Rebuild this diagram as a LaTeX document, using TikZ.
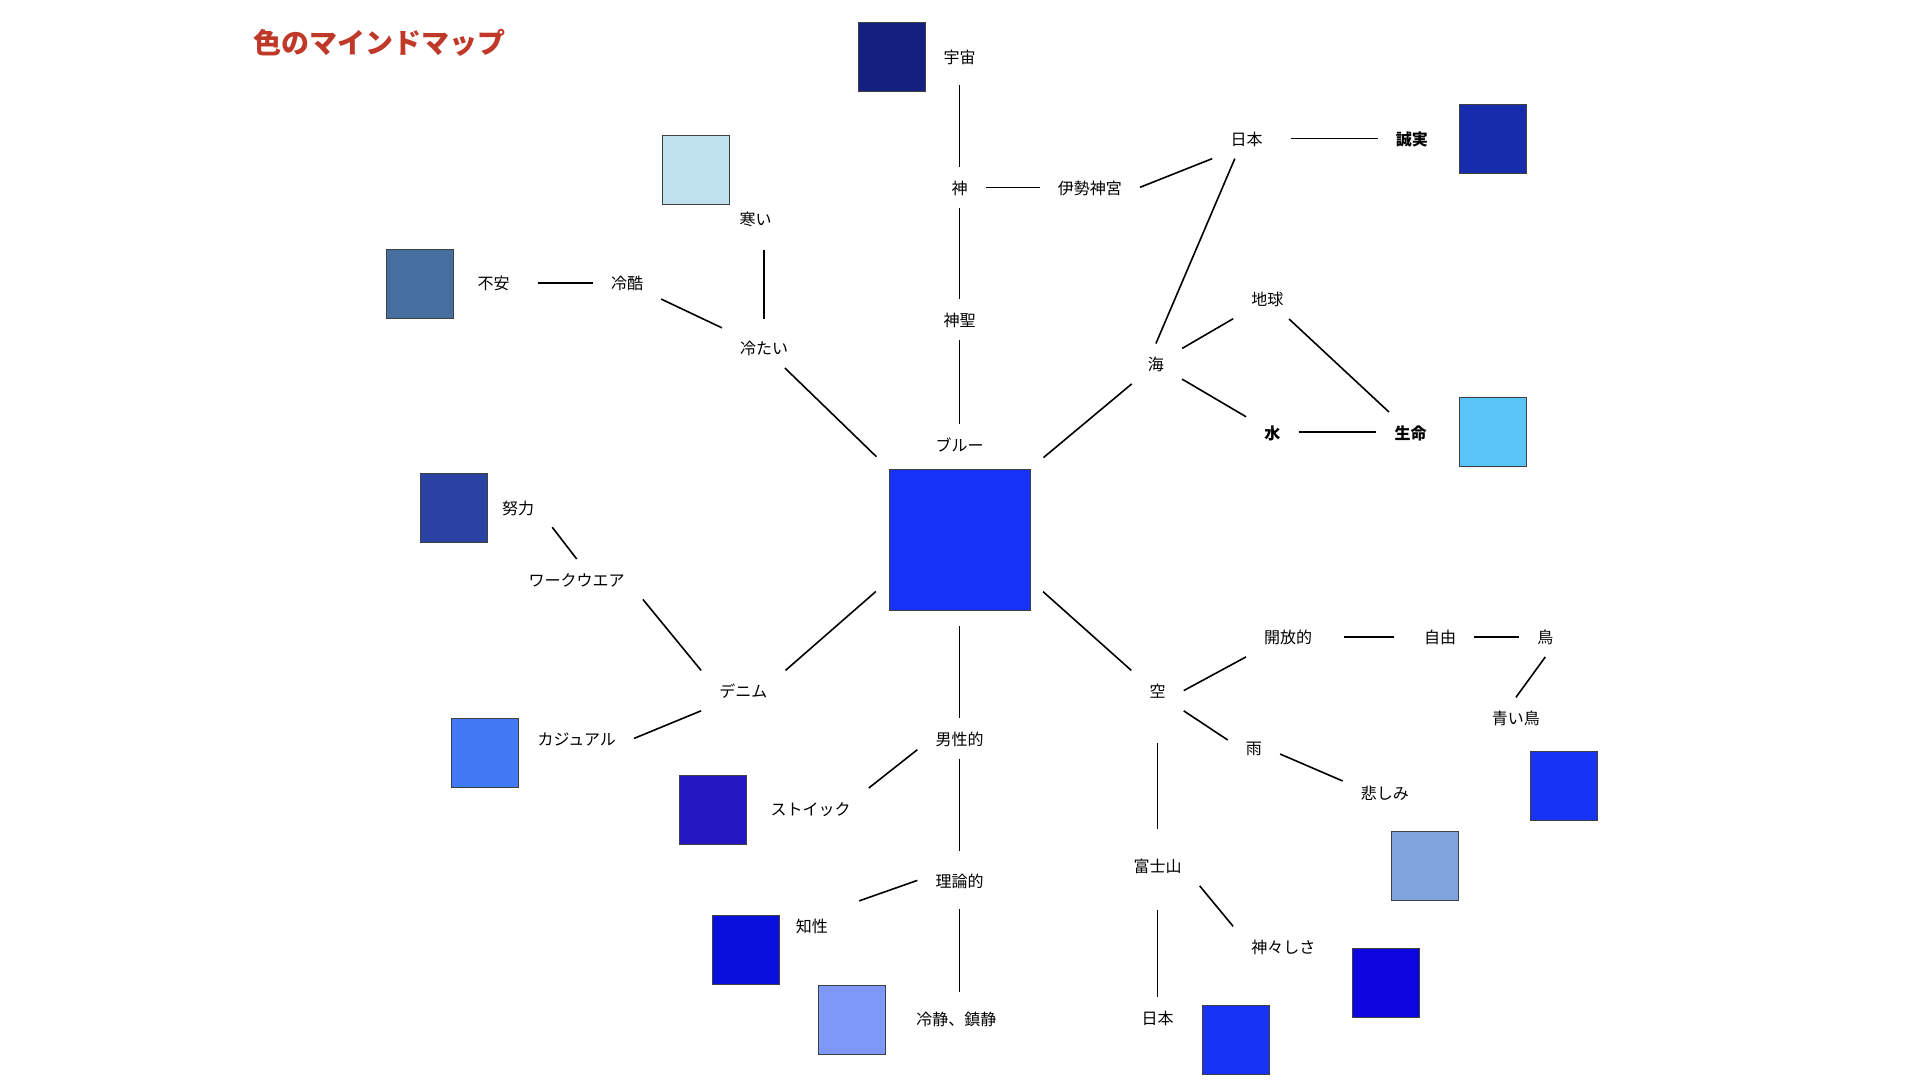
\documentclass[tikz,border=0pt]{standalone}
\usepackage{fontspec}
\newfontfamily\jp{Noto Sans CJK JP}
\usetikzlibrary{calc}
\definecolor{cTitle}{RGB}{192,57,40}
\definecolor{cUtyu}{RGB}{19,32,127}
\definecolor{cSamui}{RGB}{192,226,238}
\definecolor{cFuan}{RGB}{70,110,159}
\definecolor{cSeijitsu}{RGB}{23,44,171}
\definecolor{cSeimei}{RGB}{90,195,248}
\definecolor{cDoryoku}{RGB}{42,66,162}
\definecolor{cBlue}{RGB}{23,51,248}
\definecolor{cCasual}{RGB}{66,121,245}
\definecolor{cStoic}{RGB}{37,24,195}
\definecolor{cChisei}{RGB}{10,16,220}
\definecolor{cReisei}{RGB}{125,152,248}
\definecolor{cAoitori}{RGB}{23,51,246}
\definecolor{cKanashimi}{RGB}{127,163,220}
\definecolor{cKougou}{RGB}{14,6,224}
\definecolor{cNihon}{RGB}{23,51,246}
\begin{document}
\begin{tikzpicture}[x=1pt,y=-1pt,
  lbl/.style={font=\jp\fontsize{16}{19}\selectfont, inner xsep=18pt, inner ysep=12pt, text height=15pt, text depth=1pt},
  lblb/.style={lbl, font=\jp\bfseries\fontsize{16}{19}\selectfont},
  sq/.style={draw=black!75, line width=0.8pt, minimum width=67pt, minimum height=69pt, inner sep=0pt},
  conn/.style={line width=1.6pt, black},
  ttl/.style={font=\jp\bfseries\fontsize{28}{33}\selectfont, text=cTitle, inner sep=0pt, anchor=west}]
\useasboundingbox[fill=white] (0,0) rectangle (1920,1080);

\node[ttl] (title) at (253,43) {色のマインドマップ};

% squares
\node[sq, fill=cUtyu] (utyuSq) at (892,57) {};
\node[sq, fill=cSamui] (samuiSq) at (695.5,169.6) {};
\node[sq, fill=cFuan] (fuanSq) at (420,284) {};
\node[sq, fill=cSeijitsu] (seijitsuSq) at (1492.6,138.4) {};
\node[sq, fill=cSeimei] (seimeiSq) at (1492.6,432.2) {};
\node[sq, fill=cDoryoku] (doryokuSq) at (454.3,508.2) {};
\node[sq, fill=cBlue, minimum width=141pt, minimum height=141pt] (blue) at (959.5,539.4) {};
\node[sq, fill=cCasual] (casualSq) at (484.9,753.1) {};
\node[sq, fill=cStoic] (stoicSq) at (712.6,809.4) {};
\node[sq, fill=cChisei] (chiseiSq) at (745.7,950.2) {};
\node[sq, fill=cReisei] (reiseiSq) at (852.2,1020) {};
\node[sq, fill=cAoitori] (aoitoriSq) at (1563.7,786.1) {};
\node[sq, fill=cKanashimi] (kanashimiSq) at (1425.3,865.7) {};
\node[sq, fill=cKougou] (kougouSq) at (1386.1,983.3) {};
\node[sq, fill=cNihon] (nihonBSq) at (1235.5,1039.6) {};

% labels
\node[lbl] (utyu) at (959.5,56.3) {宇宙};
\node[lbl] (kami) at (959.5,187.3) {神};
\node[lbl] (ise) at (1089.8,187.3) {伊勢神宮};
\node[lbl] (nihonT) at (1246.5,138.4) {日本};
\node[lblb] (seijitsu) at (1411.8,138.4) {誠実};
\node[lbl] (samui) at (755.5,218) {寒い};
\node[lbl] (fuan) at (493.5,282.9) {不安};
\node[lbl] (reikoku) at (627,282.9) {冷酷};
\node[lbl] (tsumetai) at (764.1,347.8) {冷たい};
\node[lbl] (shinsei) at (959.5,319.6) {神聖};
\node[lbl] (chikyu) at (1267.4,298.8) {地球};
\node[lbl] (umi) at (1155.9,363.7) {海};
\node[lblb] (mizu) at (1272.3,432.2) {水};
\node[lblb] (seimei) at (1410.6,432.2) {生命};
\node[lbl] (bluelbl) at (959.5,444.5) {ブルー};
\node[lbl] (doryoku) at (518,507) {努力};
\node[lbl] (work) at (576.7,579.2) {ワークウエア};
\node[lbl] (denim) at (743.3,690.6) {デニム};
\node[lbl] (casual) at (576.7,738.4) {カジュアル};
\node[lbl] (dansei) at (959.5,738.4) {男性的};
\node[lbl] (stoic) at (810.6,808.2) {ストイック};
\node[lbl] (ronri) at (959.5,880.4) {理論的};
\node[lbl] (chisei) at (811.8,925.7) {知性};
\node[lbl] (reisei) at (956.3,1018.8) {冷静、鎮静};
\node[lbl] (sora) at (1157.5,690.6) {空};
\node[lbl] (kaiho) at (1288.2,636.7) {開放的};
\node[lbl] (jiyu) at (1440,636.7) {自由};
\node[lbl] (tori) at (1545.3,636.7) {鳥};
\node[lbl] (aoitori) at (1515.9,717.6) {青い鳥};
\node[lbl] (ame) at (1253.9,747) {雨};
\node[lbl] (kanashimi) at (1384.9,792.3) {悲しみ};
\node[lbl] (fuji) at (1157.5,865.7) {富士山};
\node[lbl] (kougou) at (1283.3,946.5) {神々しさ};
\node[lbl] (nihonB) at (1157.5,1017.6) {日本};

% connectors
\draw[conn, shorten <=8pt] (utyu) -- (kami);
\draw[conn] (kami) -- (shinsei);
\draw[conn] (shinsei) -- (bluelbl);
\draw[conn] (kami) -- (ise);
\draw[conn] (ise.east) -- (nihonT.south west);
\draw[conn, shorten <=10pt] (nihonT) -- (seijitsu);
\draw[conn] (nihonT.-120) -- (umi.north);
\draw[conn] (umi) -- (chikyu);
\draw[conn] (chikyu) -- (seimei);
\draw[conn] (umi) -- (mizu);
\draw[conn] (mizu) -- (seimei);
\draw[conn, shorten >=17pt] (umi) -- (blue.north east);
\draw[conn, shorten <=9pt, shorten >=12pt] (tsumetai.north) -- (tsumetai.north |- samui.south);
\draw[conn] (reikoku) -- (tsumetai);
\draw[conn, shorten <=10pt] (fuan) -- (reikoku);
\draw[conn, shorten >=17pt] (tsumetai) -- (blue.north west);
\draw[conn] (doryoku.south east) -- (work.north);
\draw[conn] (work.south east) -- (denim.north west);
\draw[conn, shorten >=17pt] (denim.north east) -- (blue.-150);
\draw[conn] (casual.east) -- (denim.south west);
\draw[conn, shorten <=16pt] (blue.south) -- (dansei.north);
\draw[conn] (dansei.-165) -- (stoic.north east);
\draw[conn, shorten >=9pt] (dansei) -- (ronri);
\draw[conn, shorten >=14pt] (ronri.west) -- (chisei.north east);
\draw[conn, shorten <=8pt, shorten >=7pt] (ronri.south) -- (ronri.south |- reisei.north);
\draw[conn, shorten <=17pt] (blue.-30) -- (sora.north west);
\draw[conn] (sora.east) -- (kaiho.south west);
\draw[conn, shorten <=14pt, shorten >=12pt] (kaiho) -- (jiyu);
\draw[conn] (jiyu) -- (tori);
\draw[conn] (tori.south) -- (aoitori.north);
\draw[conn] (sora.south east) -- (ame.165);
\draw[conn] (ame.-15) -- (kanashimi.165);
\draw[conn, shorten <=32pt, shorten >=17pt] (sora) -- (fuji);
\draw[conn] (fuji.south east) -- (kougou.north west);
\draw[conn, shorten <=24pt] (fuji) -- (nihonB);
\end{tikzpicture}
\end{document}
